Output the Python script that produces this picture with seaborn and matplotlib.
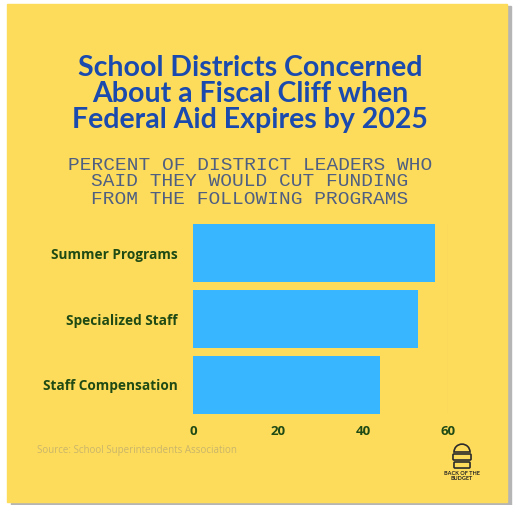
import matplotlib
matplotlib.use('Agg')
import matplotlib.pyplot as plt
import matplotlib.patches as mpatches
import pandas as pd
import seaborn as sns

categories = ['Summer Programs', 'Specialized Staff', 'Staff Compensation']
percent = [57, 53, 44]
ticks = [0, 20, 40, 60]

df = pd.DataFrame({'program': categories, 'percent': percent})

bg = '#FDDC5C'
bar_color = '#38B6FF'
title_color = '#1A4AAE'
label_color = '#1F4A14'

sns.set_style('white')
plt.rcParams['font.family'] = ['Lato', 'DejaVu Sans']

W, H = 513, 505
fig = plt.figure(figsize=(W / 100, H / 100), dpi=100)
fig.patch.set_facecolor('white')


def px(x, y):
    # pixel coords (from top-left) -> figure fraction
    return x / W, 1 - y / H


# grey drop shadow + yellow card behind everything
fig.patches.append(mpatches.Rectangle((11 / W, 0), 500 / W, 499 / H,
                                      transform=fig.transFigure, color='#b5b5b5', zorder=-3))
fig.patches.append(mpatches.Rectangle((7 / W, 3 / H), 500 / W, 498 / H,
                                      transform=fig.transFigure, color=bg, zorder=-2))

ax = fig.add_axes([193 / W, 1 - 414 / H, 255 / W, 190 / H])
ax.patch.set_alpha(0)
sns.barplot(data=df, x='percent', y='program', color=bar_color, width=0.88,
            saturation=1, linewidth=0, ax=ax)
ax.set_xlim(0, 60)
ax.set_ylim(2.44, -0.44)
ax.set_xticks(ticks)
ax.set_xticklabels([str(t) for t in ticks], color=label_color, fontsize=9.5,
                   fontweight='bold', family=['Open Sans', 'DejaVu Sans'])
ax.set_yticklabels(categories, color=label_color, fontsize=9.8, fontweight='bold',
                   family=['Open Sans', 'DejaVu Sans'])
ax.tick_params(length=0, axis='y', pad=11)
ax.tick_params(length=0, axis='x', pad=8)
ax.set_xlabel('')
ax.set_ylabel('')
ax.axvline(60, color='#e8c750', lw=0.8, zorder=0)
sns.despine(ax=ax, left=True, bottom=True)

fig.text(0.487, 1 - 94 / H,
         'School Districts Concerned\nAbout a Fiscal Cliff when\nFederal Aid Expires by 2025',
         ha='center', va='center', fontsize=20.5, fontweight='bold', color=title_color,
         linespacing=0.98)
fig.text(0.487, 1 - 182 / H,
         'PERCENT OF DISTRICT LEADERS WHO\nSAID THEY WOULD CUT FUNDING\nFROM THE FOLLOWING PROGRAMS',
         ha='center', va='center', fontsize=14, color='#4F5F82',
         family=['Liberation Mono', 'DejaVu Sans Mono'], linespacing=1.0)
fig.text(37 / W, 1 - 451 / H, 'Source: School Superintendents Association',
         ha='left', va='center', fontsize=7, color='#c9b56a',
         family=['Open Sans', 'DejaVu Sans'])
fig.text(462 / W, 1 - 476 / H, 'BACK OF THE\nBUDGET', ha='center', va='center',
         fontsize=4, fontweight='bold', color='#222222', linespacing=1.0)

# small burger logo
ink = '#2b2b2b'
fig.patches.append(mpatches.Wedge(px(462, 452), 8 / W, 0, 180, transform=fig.transFigure,
                                  fill=False, ec=ink, lw=1.2))
fig.patches.append(mpatches.FancyBboxPatch(px(454, 459), 16 / W, 4 / H,
                                           boxstyle='round,pad=0.002', transform=fig.transFigure,
                                           fill=False, ec=ink, lw=1.2))
fig.patches.append(mpatches.FancyBboxPatch(px(455, 467), 14 / W, 4 / H,
                                           boxstyle='round,pad=0.002', transform=fig.transFigure,
                                           fill=False, ec=ink, lw=1.2))

fig.savefig('out.png', dpi=100, facecolor=fig.get_facecolor())
